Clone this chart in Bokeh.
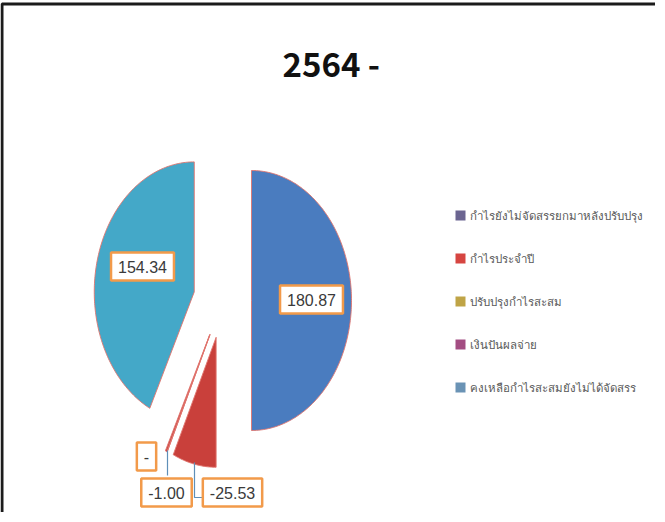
import numpy as np
from bokeh.plotting import figure
from bokeh.models import Range1d, ColumnDataSource, Label
from bokeh.core.properties import value
from bokeh.embed import file_html
from bokeh.resources import INLINE

# ---------------- data ----------------
title_text = "2564  -"
categories = [
    "กำไรยังไม่จัดสรรยกมาหลังปรับปรุง",
    "กำไรประจำปี",
    "ปรับปรุงกำไรสะสม",
    "เงินปันผลจ่าย",
    "คงเหลือกำไรสะสมยังไม่ได้จัดสรร",
]
values = [180.87, -25.53, 0.0, -1.00, 154.34]
value_labels = ["180.87", "-25.53", "-", "-1.00", "154.34"]

# ---------------- styles / layout ----------------
slice_colors = ["#4A7CBF", "#C9403B", "#B9A547", "#CC4A45", "#44A8C8"]
legend_colors = ["#6B6591", "#D64541", "#BFA446", "#A34D82", "#6A93B5"]
label_x = [311, 232, 146, 166, 142]
label_y = [299, 492, 456, 492, 266]

W, H = 655, 512
cx, cy, rx, ry, explode = 222.0, 300.0, 100.0, 130.0, 0.29
leg_x, leg_y0, leg_pitch, leg_box = 460.0, 215.0, 43.0, 10

p = figure(width=W, height=H, x_range=Range1d(0, W), y_range=Range1d(H, 0),
           output_backend="svg", toolbar_location=None, min_border=0,
           x_axis_location=None, y_axis_location=None)
p.grid.visible = False
p.outline_line_color = None
p.background_fill_color = "white"
p.border_fill_color = "white"

# chart-area frame (left & top edges visible in the reference)
p.line(x=[1.5, 1.5, W], y=[H, 3.5, 3.5], line_color="#1b1b1b", line_width=3)

# ---------------- pie (exploded, Excel uses |value|) ----------------
mags = np.abs(np.array(values, dtype=float))
frac = mags / mags.sum()
ends = np.cumsum(frac) * 2 * np.pi
starts = ends - frac * 2 * np.pi
mids = (starts + ends) / 2
xs, ys = [], []
for s, e, m in zip(starts, ends, mids):
    ox = cx + explode * rx * np.sin(m)
    oy = cy - explode * ry * np.cos(m)
    n = max(3, int(np.degrees(e - s)) + 3)
    t = np.linspace(s, e, n)
    xs.append(np.concatenate([[ox], ox + rx * np.sin(t)]))
    ys.append(np.concatenate([[oy], oy - ry * np.cos(t)]))

pie_src = ColumnDataSource(dict(xs=xs, ys=ys, color=slice_colors, cat=categories))
p.patches(xs="xs", ys="ys", source=pie_src, fill_color="color",
          line_color="#E0746E", line_width=1, line_alpha=0.9)

# leader lines for the small slices
p.line(x=[167, 167], y=[450, 475], line_color="#5E8FB8", line_width=1.2)
p.line(x=[194, 194, 204], y=[462, 497, 497], line_color="#5E8FB8", line_width=1.2)

# data labels
lab_src = ColumnDataSource(dict(x=label_x, y=label_y, text=value_labels))
p.text(x="x", y="y", text="text", source=lab_src,
       text_font=value("Liberation Sans"), text_font_size="16px",
       text_color="#3A3A3A", text_align="center", text_baseline="middle",
       background_fill_color="white", border_line_color="#F29A4A",
       border_line_width=2.5, padding=(7, 8))

# title
p.add_layout(Label(x=282, y=62, text=title_text, text_font="Noto Sans CJK SC",
                   text_font_style="bold", text_font_size="33px",
                   text_color="#111111", text_align="left",
                   text_baseline="alphabetic"))

# legend (Excel style: small square + label)
idx = np.arange(len(categories))
leg_src = ColumnDataSource(dict(
    x=np.full(len(categories), leg_x),
    y=leg_y0 + idx * leg_pitch,
    tx=np.full(len(categories), leg_x + leg_box / 2 + 4),
    color=legend_colors, text=categories))
p.rect(x="x", y="y", width=leg_box, height=leg_box, source=leg_src,
       fill_color="color", line_color=None)
p.text(x="tx", y="y", text="text", source=leg_src,
       text_font=value("Noto Sans"), text_font_size="11.5px",
       text_color="#595959", text_align="left", text_baseline="middle")

open("out.html", "w").write(file_html(p, INLINE))
